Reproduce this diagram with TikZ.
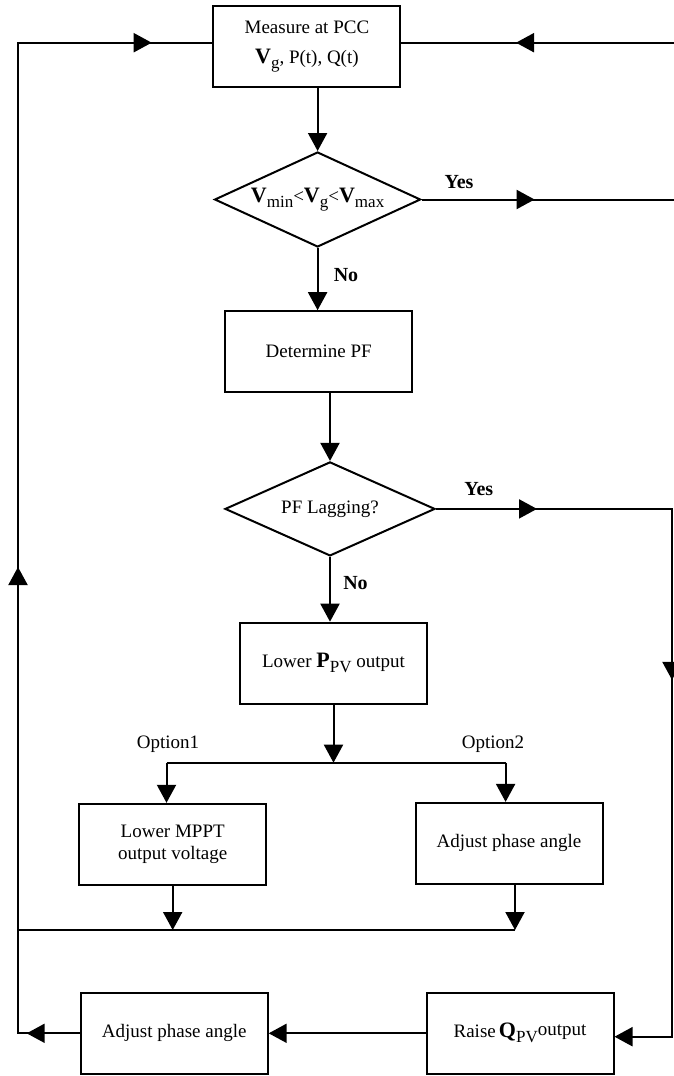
\documentclass[tikz,border=0pt]{standalone}
\usepackage{fontspec}
\setmainfont{Liberation Serif}
\usetikzlibrary{arrows.meta,shapes.geometric,decorations.markings}

\newcommand{\bv}[1]{{\fontsize{22}{22}\selectfont\bfseries #1}}
\newcommand{\lowtxt}[1]{\raisebox{-5pt}{\fontsize{17}{17}\selectfont #1}}

\tikzset{
  procbox/.style={draw,line width=2pt,minimum width=187pt,minimum height=81pt,
    inner sep=2pt,align=center,font=\fontsize{19}{22}\selectfont},
  decbox/.style={draw,diamond,aspect=2.2,line width=2pt,inner sep=0pt,
    minimum width=206pt,minimum height=95pt,font=\fontsize{19}{22}\selectfont},
  lbl/.style={font=\fontsize{20}{22}\selectfont\bfseries},
  opt/.style={font=\fontsize{19}{22}\selectfont},
  flow/.style={line width=2pt},
  markat/.style={postaction={decorate,decoration={markings,
    mark=at position #1 with {\arrow{>}}}}},
}

\begin{document}
\begin{tikzpicture}[x=1pt,y=-1pt,>={Triangle[length=18pt,width=19pt]}]
  \useasboundingbox (0,0) rectangle (673,1076);
  % boxes and decisions
  \node[procbox] (measure) at (306.9,46.7) {Measure at PCC\\[8pt]\bv{V}\lowtxt{g}, P(t), Q(t)};
  \node[decbox] (vcheck) at (317.6,199.5) {\bv{V}\lowtxt{min}<\bv{V}\lowtxt{g}<\bv{V}\lowtxt{max}};
  \node[procbox] (detpf) at (318.7,351.7) {Determine PF};
  \node[decbox,minimum width=210pt,minimum height=94pt] (lagging) at (330,508.9) {PF Lagging?};
  \node[procbox] (lowerp) at (333.5,663.2) {Lower \bv{P}\lowtxt{PV} output};
  \node[procbox] (mppt) at (172.7,844.3) {Lower MPPT\\output voltage};
  \node[procbox] (phaseA) at (509,843.4) {Adjust phase angle};
  \node[procbox] (phaseB) at (174.2,1033.3) {Adjust phase angle};
  \node[procbox] (raiseq) at (520,1033.3) {Raise\,\bv{Q}\lowtxt{PV}\raisebox{2pt}{output}};
  % labels
  \node[lbl] (yesA) at (459,182) {Yes};
  \node[lbl] (noA) at (346,275) {No};
  \node[lbl] (yesB) at (478.7,489) {Yes};
  \node[lbl] (noB) at (355.5,583) {No};
  \node[opt] (optA) at (168,744) {Option1};
  \node[opt] (optB) at (493,744) {Option2};
  % corner points
  \coordinate (tl) at (18,42.7);
  \coordinate (bl) at (18,1033.3);
  \coordinate (tr) at (674,42.7);
  \coordinate (yesAend) at (674,196.7);
  \coordinate (rbot) at (672,1036.7);
  \coordinate (splitL) at (166.5,762.7);
  \coordinate (splitR) at (505.6,762.7);
  \coordinate (mergeL) at (18,930);
  \coordinate (mergeR) at (515,930);
  % connectors
  \draw[flow,markat=53pt,markat=528pt,markat=1186pt]
    (phaseB.west) -- (bl) -- (tl) -- (tl -| measure.west);
  \draw[flow,markat=158pt] (tr) -- (tr -| measure.east);
  \draw[flow,->] (measure.south -| vcheck.north) -- (vcheck.north);
  \draw[flow,markat=113pt] (vcheck.east) -- (vcheck.east -| yesAend);
  \draw[flow,->] (vcheck.south) -- (vcheck.south |- detpf.north);
  \draw[flow,->] (detpf.south -| lagging.north) -- (lagging.north);
  \draw[flow,markat=101pt,markat=407pt,->]
    (lagging.east) -- (lagging.east -| rbot) -- (rbot) -- (rbot -| raiseq.east);
  \draw[flow,->] (lagging.south) -- (lagging.south |- lowerp.north);
  \draw[flow,->] (lowerp.south) -- (lowerp.south |- splitL);
  \draw[flow] (splitL) -- (splitR);
  \draw[flow,->] (splitL) -- (splitL |- mppt.north);
  \draw[flow,->] (splitR) -- (splitR |- phaseA.north);
  \draw[flow,->] (mppt.south) -- (mppt.south |- mergeL);
  \draw[flow,->] (phaseA.south -| mergeR) -- (mergeR);
  \draw[flow] (mergeR) -- (mergeL);
  \draw[flow,->] (raiseq.west) -- (phaseB.east);
\end{tikzpicture}
\end{document}
